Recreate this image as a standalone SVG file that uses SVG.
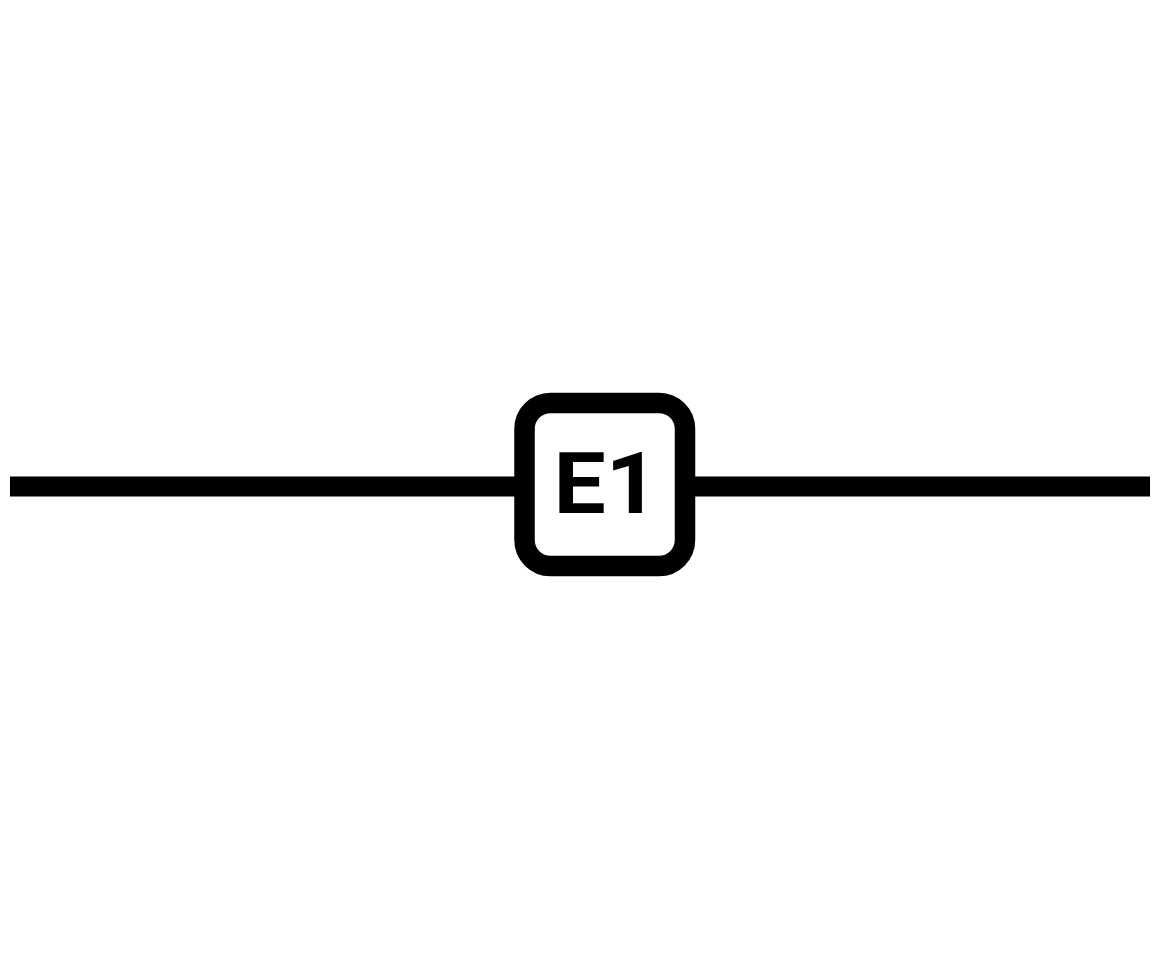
<svg xmlns="http://www.w3.org/2000/svg" width="1162" height="968" viewBox="0 0 1162 968">
<style>
.wire{stroke:#000;stroke-width:20;fill:none}
.box{fill:#fff;stroke:#000;stroke-width:20.5}
.lbl{font-family:Roboto,"Liberation Sans",Arial,sans-serif;font-weight:700;font-size:84.4px;fill:#000}
</style>
<rect width="1162" height="968" fill="#fff"/>
<g id="connectors">
<line class="wire" x1="10" y1="486.5" x2="524" y2="486.5"/>
<line class="wire" x1="685" y1="486.5" x2="1150" y2="486.5"/>
</g>
<g id="E1">
<rect class="box" x="524.5" y="403" width="160.5" height="163" rx="26"/>
<text class="lbl" transform="translate(553.4,513) scale(1.1,1)" x="0" y="0">E1</text>
</g>
</svg>
